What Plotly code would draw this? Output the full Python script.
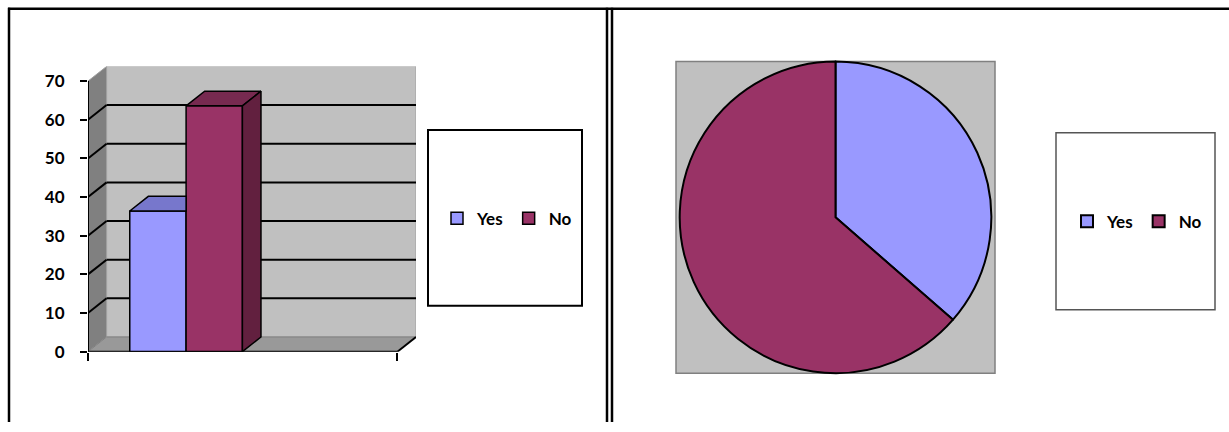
import plotly.graph_objects as go

# data
categories = ["Yes", "No"]
bar_values = [36.4, 63.6]
pie_values = [36.4, 63.6]
y_ticks = [0, 10, 20, 30, 40, 50, 60, 70]

front_colors = ["#9999FF", "#993366"]
top_colors = ["#7777CC", "#772A50"]
side_colors = ["#5C5CA8", "#62203F"]

W, H = 1229, 432


def px(x):
    return x / W


def py(y):
    return 1 - y / H


# fake 3D depth in data units
DX, DY = 0.06, 3.8
BAR_X0, BAR_W = 0.135, 0.182
YMAX = y_ticks[-1]

fig = go.Figure()
shapes = []

# walls + floor of the 3D box
shapes.append(dict(type="rect", xref="x", yref="y", x0=DX, x1=1 + DX, y0=DY, y1=YMAX + DY,
                   fillcolor="#C0C0C0", line=dict(color="#A0A0A0", width=1), layer="below"))
shapes.append(dict(type="path", xref="x", yref="y",
                   path=f"M 0,0 L {DX},{DY} L {DX},{YMAX + DY} L 0,{YMAX} Z",
                   fillcolor="#808080", line=dict(color="#A0A0A0", width=1), layer="below"))
shapes.append(dict(type="path", xref="x", yref="y",
                   path=f"M 0,0 L 1,0 L {1 + DX},{DY} L {DX},{DY} Z",
                   fillcolor="#999999", line=dict(color="#808080", width=1), layer="below"))
for v in y_ticks[1:-1]:
    shapes.append(dict(type="line", xref="x", yref="y", x0=0, y0=v, x1=DX, y1=v + DY,
                       line=dict(color="black", width=2), layer="below"))
    shapes.append(dict(type="line", xref="x", yref="y", x0=DX, y0=v + DY, x1=1 + DX, y1=v + DY,
                       line=dict(color="black", width=2), layer="below"))

# front axis lines
shapes.append(dict(type="line", xref="x", yref="y", x0=0, y0=0, x1=0, y1=YMAX,
                   line=dict(color="black", width=2)))
shapes.append(dict(type="line", xref="x", yref="y", x0=0, y0=0, x1=1, y1=0,
                   line=dict(color="black", width=2)))
shapes.append(dict(type="line", xref="x", yref="y", x0=1, y0=0, x1=1 + DX, y1=DY,
                   line=dict(color="black", width=2)))

# bars (front faces)
for i, (cat, val) in enumerate(zip(categories, bar_values)):
    fig.add_trace(go.Bar(x=[BAR_X0 + BAR_W * (i + 0.5)], y=[val], width=[BAR_W], name=cat,
                         marker=dict(color=front_colors[i], line=dict(color="black", width=1.5)),
                         legend="legend", hoverinfo="name+y"))

# top and side faces
for i, val in enumerate(bar_values):
    x0 = BAR_X0 + BAR_W * i
    x1 = x0 + BAR_W
    hidden = i + 1 < len(bar_values) and bar_values[i + 1] >= val
    if hidden:
        tx = [x0, x1, x1, x0 + DX, x0]
        ty = [val, val, val + DY, val + DY, val]
    else:
        tx = [x0, x1, x1 + DX, x0 + DX, x0]
        ty = [val, val, val + DY, val + DY, val]
    fig.add_trace(go.Scatter(x=tx, y=ty, fill="toself", fillcolor=top_colors[i], mode="lines",
                             line=dict(color="black", width=1.5), showlegend=False, hoverinfo="skip"))
    if not hidden:
        fig.add_trace(go.Scatter(x=[x1, x1 + DX, x1 + DX, x1, x1], y=[0, DY, val + DY, val, 0],
                                 fill="toself", fillcolor=side_colors[i], mode="lines",
                                 line=dict(color="black", width=1.5), showlegend=False,
                                 hoverinfo="skip"))

# pie
fig.add_trace(go.Pie(labels=categories, values=pie_values, sort=False, direction="clockwise",
                     rotation=0, textinfo="none",
                     marker=dict(colors=front_colors, line=dict(color="black", width=2)),
                     domain=dict(x=[px(676), px(995)], y=[py(382), py(63)]),
                     legend="legend2"))

# pie background
shapes.append(dict(type="rect", xref="paper", yref="paper", x0=px(676), x1=px(995),
                   y0=py(382), y1=py(63), fillcolor="#C0C0C0",
                   line=dict(color="#808080", width=1.5), layer="below"))

# legend boxes
shapes.append(dict(type="rect", xref="paper", yref="paper", x0=px(428), x1=px(582),
                   y0=py(313), y1=py(133), line=dict(color="black", width=2), layer="below"))
shapes.append(dict(type="rect", xref="paper", yref="paper", x0=px(1056), x1=px(1215),
                   y0=py(317), y1=py(136), line=dict(color="#555555", width=1.5), layer="below"))

# frame
frame = dict(color="black", width=2.5)
shapes.append(dict(type="line", xref="paper", yref="paper", x0=px(8), x1=1, y0=py(9), y1=py(9), line=frame))
shapes.append(dict(type="line", xref="paper", yref="paper", x0=px(9), x1=px(9), y0=0, y1=py(8), line=frame))
shapes.append(dict(type="line", xref="paper", yref="paper", x0=px(607), x1=px(607), y0=0, y1=py(8), line=frame))
shapes.append(dict(type="line", xref="paper", yref="paper", x0=px(612), x1=px(612), y0=0, y1=py(8), line=frame))

legend_font = dict(family="Lato", size=17, color="black", weight="bold")

fig.update_layout(
    width=W, height=H,
    margin=dict(l=0, r=0, t=0, b=0),
    paper_bgcolor="white",
    plot_bgcolor="rgba(0,0,0,0)",
    barmode="overlay",
    shapes=shapes,
    xaxis=dict(domain=[px(88), px(416)], range=[0, 1 + DX], tickvals=[0, 1], ticktext=["", ""],
               ticks="outside", ticklen=8, tickwidth=2, tickcolor="black",
               showgrid=False, zeroline=False, showline=False, fixedrange=True),
    yaxis=dict(domain=[py(360), py(68)], range=[0, YMAX + DY], tickvals=y_ticks,
               ticks="outside", ticklen=7, tickwidth=2, tickcolor="black",
               tickfont=dict(family="Lato", size=17, color="black", weight="bold"),
               ticklabelstandoff=12,
               showgrid=False, zeroline=False, showline=False, fixedrange=True),
    legend=dict(orientation="h", x=px(507), y=py(224), xanchor="center", yanchor="middle",
                bgcolor="rgba(0,0,0,0)", font=legend_font, itemwidth=30, traceorder="normal"),
    legend2=dict(orientation="h", x=px(1137), y=py(227), xanchor="center", yanchor="middle",
                 bgcolor="rgba(0,0,0,0)", font=legend_font, itemwidth=30, traceorder="normal"),
)

fig.write_html("out.html", config={"displayModeBar": False},
               post_script="document.body.style.margin='0';")
